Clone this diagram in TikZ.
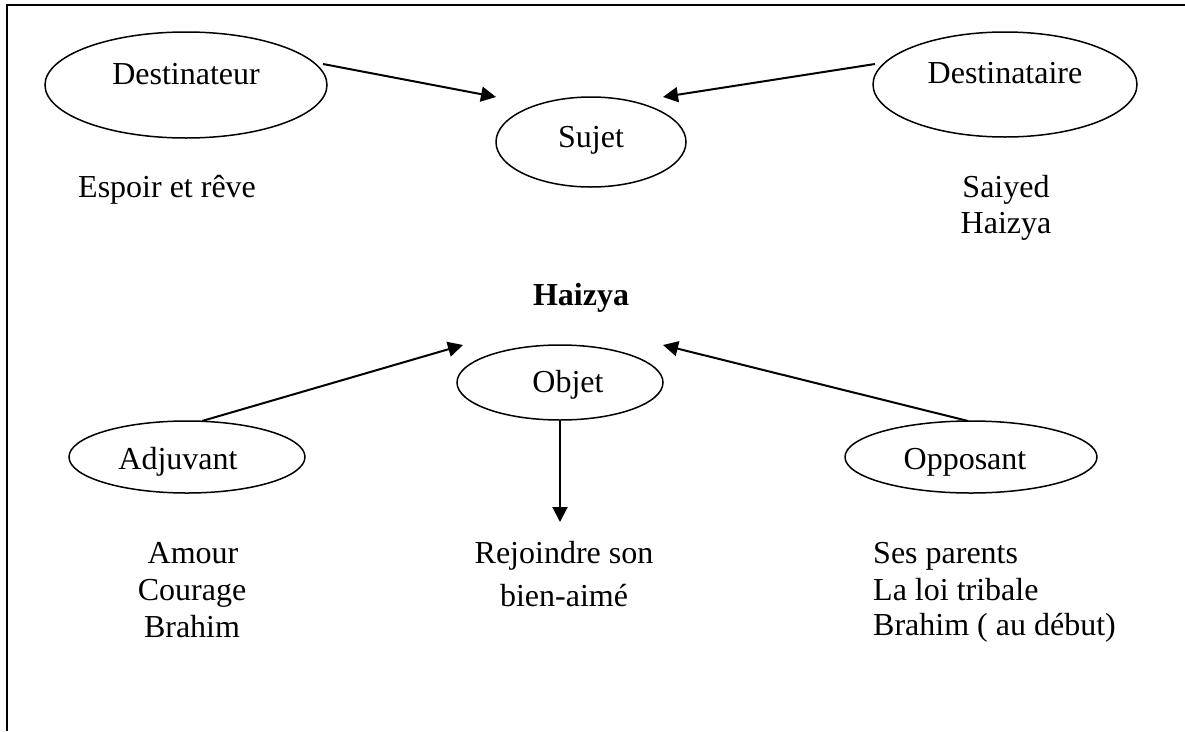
\documentclass[tikz,border=0pt]{standalone}
\usepackage{fontspec}
\setmainfont{Liberation Serif}
\usetikzlibrary{shapes.geometric,arrows.meta}
\begin{document}
\begin{tikzpicture}[x=1pt,y=-1pt,
  role/.style={draw,ellipse,line width=1.5pt,inner sep=0pt},
  txt/.style={anchor=base,inner sep=0pt,font=\fontsize{32}{37}\selectfont},
  txtl/.style={txt,anchor=base west},
  link/.style={line width=2pt,-{Triangle[length=15pt,width=15pt]}}]
\useasboundingbox (0,0) rectangle (1185,731);
% open frame: top and left edges
\draw[line width=2pt] (7,731) -- (7,5) -- (1185,5);

% actant ellipses
\node[role,minimum width=282pt,minimum height=106pt] (dest) at (186,85) {};
\node[role,minimum width=264pt,minimum height=105pt] (dire) at (1005,84.5) {};
\node[role,minimum width=190pt,minimum height=90pt]  (sujet) at (591,142) {};
\node[role,minimum width=206pt,minimum height=75pt]  (objet) at (560,382.5) {};
\node[role,minimum width=236pt,minimum height=72pt]  (adj) at (187,457) {};
\node[role,minimum width=252pt,minimum height=72pt]  (opp) at (971,457) {};

% names inside the ellipses
\node[txt] (tdest)  at (186,84)  {Destinateur};
\node[txt] (tdire)  at (1005,83) {Destinataire};
\node[txt] (tsujet) at (591,147) {Sujet};
\node[txt] (tobjet) at (568,392) {Objet};
\node[txt] (tadj)   at (178,469) {Adjuvant};
\node[txt] (topp)   at (965,469) {Opposant};

% values
\node[txtl] (espoir) at (78,197) {Espoir et rêve};
\node[txt] (saiyed) at (1006,197) {Saiyed};
\node[txt] (haizyaB) at (1006,233) {Haizya};
\node[txt,font=\fontsize{32}{37}\selectfont\bfseries] (haizya) at (581,305) {Haizya};
\node[txt] (amour)   at (193,563) {Amour};
\node[txt] (courage) at (192,600) {Courage};
\node[txt] (brahim)  at (192,637) {Brahim};
\node[txt] (rej1) at (564,563) {Rejoindre son};
\node[txt] (rej2) at (564,606) {bien-aimé};
\node[txtl] (ses)  at (873,563) {Ses parents};
\node[txtl] (loi)  at (873,600) {La loi tribale};
\node[txtl] (brd)  at (873,635) {Brahim ( au début)};

% arrow end points
\coordinate (destOut) at (323,64);
\coordinate (sujetInL) at (496,97);
\coordinate (direOut) at (875,64);
\coordinate (sujetInR) at (663,97);
\coordinate (adjOut) at (202,421);
\coordinate (objetInL) at (463,345);
\coordinate (oppOut) at (968,421);
\coordinate (objetInR) at (663,345);
\coordinate (objetOut) at (560,420);
\coordinate (rejIn) at (560,522);

\draw[link] (destOut) -- (sujetInL);
\draw[link] (direOut) -- (sujetInR);
\draw[link] (adjOut) -- (objetInL);
\draw[link] (oppOut) -- (objetInR);
\draw[link] (objetOut) -- (rejIn);
\end{tikzpicture}
\end{document}
